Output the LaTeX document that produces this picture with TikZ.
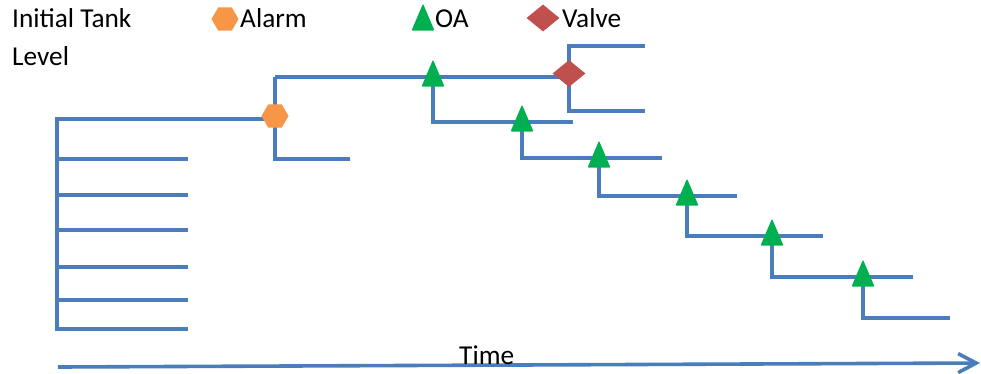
\documentclass[tikz,border=0pt]{standalone}
\usepackage{fontspec}
\setmainfont{Carlito}
\usetikzlibrary{shapes.geometric,arrows.meta}
\definecolor{wireblue}{HTML}{4A7EBB}
\definecolor{alarmorange}{HTML}{F79646}
\definecolor{oagreen}{HTML}{00B050}
\definecolor{valvered}{HTML}{C0504D}
\begin{document}
\begin{tikzpicture}[x=1pt,y=-1pt,
  wire/.style={draw=wireblue,line width=3.3pt},
  axisline/.style={draw=wireblue,line width=3.6pt,-{Straight Barb[length=18pt,width=19pt]}},
  alarm/.style={regular polygon,regular polygon sides=6,fill=alarmorange,
    minimum size=27pt,inner sep=0pt},
  oa/.style={isosceles triangle,isosceles triangle stretches,shape border rotate=90,
    fill=oagreen,minimum width=23pt,minimum height=27pt,inner sep=0pt,rounded corners=1pt},
  valve/.style={diamond,fill=valvered,minimum width=33pt,minimum height=27pt,inner sep=0pt},
  lbl/.style={font=\fontsize{27.3}{32}\selectfont,inner sep=0pt,anchor=base west}]
\useasboundingbox (0,0) rectangle (981,373);

% junction points on the step chart
\coordinate (hx) at (275,119);
\coordinate (c0) at (57,119);
\coordinate (a1) at (275,77);
\coordinate (t1) at (433,77);
\coordinate (vl) at (569,77);
\coordinate (vu) at (569,46);
\coordinate (vue) at (645,46);
\coordinate (vd) at (569,111);
\coordinate (vde) at (645,111);
\coordinate (hd) at (275,159);
\coordinate (hde) at (350,159);

% initial tank level branches
\foreach \i/\y in {1/159,2/195,3/230,4/267,5/300,6/329}{
  \coordinate (l\i) at (57,\y);
  \coordinate (b\i) at (188,\y);
}
\draw[wire] (hx) -- (c0) -- (l6) -- (b6);
\foreach \i in {1,...,5}{ \draw[wire] (l\i) -- (b\i); }

% alarm branch
\draw[wire] (a1) -- (hd) -- (hde);
% upper path through the first OA to the valve
\draw[wire] (a1) -- (t1) -- (vl);
\draw[wire] (vl) -- (vu) -- (vue);
\draw[wire] (vl) -- (vd) -- (vde);

% descending OA steps
\coordinate (t2) at (522,122);
\coordinate (t3) at (599,158);
\coordinate (t4) at (687,196);
\coordinate (t5) at (772,236);
\coordinate (t6) at (863,277);
\coordinate (e1) at (573,122);
\coordinate (e2) at (662,158);
\coordinate (e3) at (737,196);
\coordinate (e4) at (823,236);
\coordinate (e5) at (913,277);
\coordinate (e6) at (950,318);
\coordinate (d6) at (863,318);
\draw[wire] (t1) |- (e1);
\draw[wire] (t2) |- (e2);
\draw[wire] (t3) |- (e3);
\draw[wire] (t4) |- (e4);
\draw[wire] (t5) |- (e5);
\draw[wire] (t6) -- (d6) -- (e6);

% markers (y axis points down, so a positive yshift lifts a marker)
\node[alarm] (mh) at ([yshift=3pt]hx) {};
\node[valve] (mv) at ([yshift=3.5pt]vl) {};
\foreach \n in {t1,t2,t3,t4,t5,t6}{
  \node[oa] (m\n) at ([yshift=-2pt]\n) {};
}

% legend
\node[lbl] (title1) at (12,27) {Initial Tank};
\node[lbl] (title2) at (12,65) {Level};
\node[alarm] (kh) at (225,19) {};
\node[lbl] (kht) at (240,27) {Alarm};
\node[oa] (kt) at (423,23) {};
\node[lbl] (ktt) at (435,27) {OA};
\node[valve] (kv) at (543,18) {};
\node[lbl] (kvt) at (562,27) {Valve};

% time axis
\coordinate (ax0) at (58,367);
\coordinate (ax1) at (980,363);
\draw[axisline] (ax0) -- (ax1);
\node[lbl] (time) at (459,364) {Time};
\end{tikzpicture}
\end{document}
